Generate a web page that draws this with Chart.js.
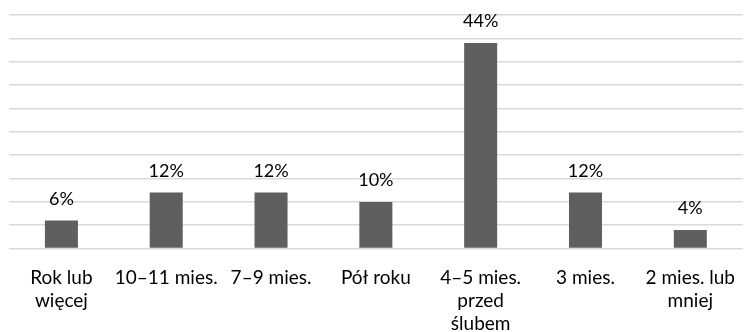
<!DOCTYPE html>
<html>
<head>
<meta charset="utf-8">
<script src="https://cdn.jsdelivr.net/npm/chart.js@4/dist/chart.umd.min.js"></script>
<style>
  html, body { margin: 0; padding: 0; background: #fff; }
  #wrap { width: 745px; height: 332px; }
</style>
</head>
<body>
<div id="wrap"><canvas id="chart"></canvas></div>
<script>
const categories = [
  ['Rok lub', 'więcej'],
  '10–11 mies.',
  '7–9 mies.',
  'Pół roku',
  ['4–5 mies.', 'przed', 'ślubem'],
  '3 mies.',
  ['2 mies. lub', 'mniej']
];
const shares = [6, 12, 12, 10, 44, 12, 4];
const yMax = 50;
const yStep = 5;

const FONT = 'Lato, "Open Sans", sans-serif';

// value labels above each bar
const barLabels = {
  id: 'barLabels',
  afterDatasetsDraw(chart) {
    const ctx = chart.ctx;
    const meta = chart.getDatasetMeta(0);
    ctx.save();
    ctx.font = '18px ' + FONT;
    ctx.fillStyle = '#000';
    ctx.textAlign = 'center';
    ctx.textBaseline = 'alphabetic';
    meta.data.forEach((bar, i) => {
      ctx.fillText(shares[i] + '%', bar.x, bar.y - 16);
    });
    ctx.restore();
  }
};

new Chart(document.getElementById('chart'), {
  type: 'bar',
  data: {
    labels: categories,
    datasets: [{
      data: shares,
      backgroundColor: '#5f5f5f',
      barPercentage: 0.315,
      categoryPercentage: 1
    }]
  },
  options: {
    responsive: true,
    maintainAspectRatio: false,
    animation: false,
    layout: { padding: { top: 15, left: 9, right: 0, bottom: -13 } },
    plugins: {
      legend: { display: false },
      tooltip: { enabled: false }
    },
    scales: {
      x: {
        grid: { display: false },
        border: { display: false },
        ticks: {
          color: '#000',
          maxRotation: 0,
          autoSkip: false,
          padding: 10,
          font: { family: FONT, size: 19, lineHeight: 1.2 }
        }
      },
      y: {
        min: 0,
        max: yMax,
        ticks: { display: false, stepSize: yStep },
        grid: { color: '#d9d9d9', lineWidth: 1.5, drawTicks: false },
        border: { display: false }
      }
    }
  },
  plugins: [barLabels]
});
</script>
</body>
</html>
